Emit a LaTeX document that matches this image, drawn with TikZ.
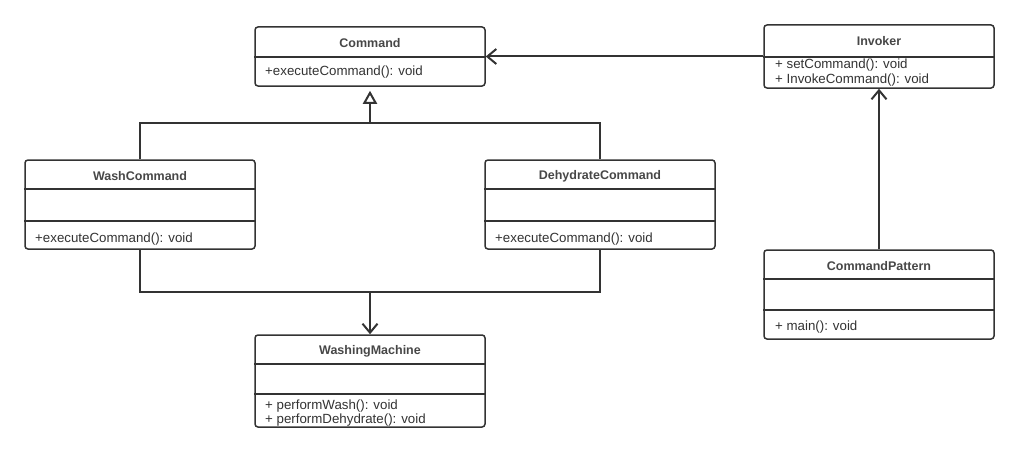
\documentclass[tikz,border=0pt]{standalone}
\usepackage{fontspec}
\setmainfont{Liberation Sans}
\usetikzlibrary{arrows.meta}
\definecolor{ink}{HTML}{333333}
\begin{document}
\begin{tikzpicture}[x=1pt,y=-1pt,
  umlbox/.style={draw=ink,line width=1.5pt,rounded corners=3pt,minimum width=230pt,inner sep=0pt,fill=white},
  ttl/.style={font=\fontsize{12.5}{14}\selectfont\bfseries,text=ink!90,inner sep=0pt},
  mth/.style={font=\fontsize{13.3}{15}\selectfont,text=ink,inner sep=0pt,anchor=west},
  div/.style={draw=ink,line width=1.5pt},
  conn/.style={draw=ink,line width=2pt},
  assoc/.style={conn,-{Straight Barb[length=9pt,width=15pt,line width=2pt]}},
  gen/.style={conn,shorten >=4pt,-{Triangle[open,length=13pt,width=14pt,line width=2pt,fill=white]}}
]
\useasboundingbox (0,0) rectangle (1019,452);
% boxes
\node[umlbox,minimum height=59pt] (cmd) at (370,56.5) {};
\node[umlbox,minimum height=63pt] (inv) at (879,56.5) {};
\node[umlbox,minimum height=89pt] (wash) at (140,204.5) {};
\node[umlbox,minimum height=89pt] (dehy) at (600,204.5) {};
\node[umlbox,minimum height=92pt] (wm) at (370,381) {};
\node[umlbox,minimum height=89pt] (cp) at (879,294.5) {};
% dividers
\draw[div] (cmd.west |- 0,57) -- (cmd.east |- 0,57);
\draw[div] (inv.west |- 0,57) -- (inv.east |- 0,57);
\draw[div] (wash.west |- 0,189) -- (wash.east |- 0,189);
\draw[div] (wash.west |- 0,221) -- (wash.east |- 0,221);
\draw[div] (dehy.west |- 0,189) -- (dehy.east |- 0,189);
\draw[div] (dehy.west |- 0,221) -- (dehy.east |- 0,221);
\draw[div] (wm.west |- 0,364) -- (wm.east |- 0,364);
\draw[div] (wm.west |- 0,394) -- (wm.east |- 0,394);
\draw[div] (cp.west |- 0,279) -- (cp.east |- 0,279);
\draw[div] (cp.west |- 0,310) -- (cp.east |- 0,310);
% titles
\node[ttl] (tcmd) at (370,43) {Command};
\node[ttl] (tinv) at (879,41) {Invoker};
\node[ttl] (twash) at (140,176) {WashCommand};
\node[ttl] (tdehy) at (600,176) {DehydrateCommand};
\node[ttl] (twm) at (370,351) {WashingMachine};
\node[ttl] (tcp) at (879,266) {CommandPattern};
% methods
\node[mth] (mcmd) at (265,72.5) {+executeCommand(): void};
\node[mth] (minv1) at (775,65) {+ setCommand(): void};
\node[mth] (minv2) at (775,80) {+ InvokeCommand(): void};
\node[mth] (mwash) at (35,239) {+executeCommand(): void};
\node[mth] (mdehy) at (495,239) {+executeCommand(): void};
\node[mth] (mwm1) at (265,406) {+ performWash(): void};
\node[mth] (mwm2) at (265,420) {+ performDehydrate(): void};
\node[mth] (mcp) at (775,327) {+ main(): void};
% connectors
\coordinate (g) at (370,123);
\coordinate (h) at (370,292);
\draw[conn] (wash.north) |- (g) -| (dehy.north);
\draw[gen] (g) -- (cmd.south);
\draw[conn] (wash.south) |- (h) -| (dehy.south);
\draw[assoc] (h) -- (wm.north);
\draw[assoc] (inv.west) -- (cmd.east);
\draw[assoc] (cp.north) -- (inv.south);
\end{tikzpicture}
\end{document}
